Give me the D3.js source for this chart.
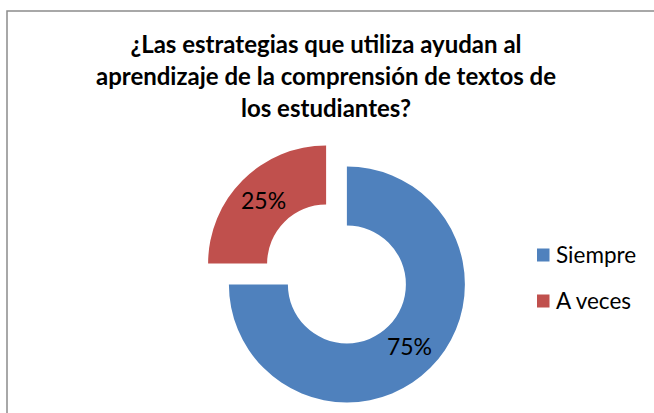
<!DOCTYPE html>
<html>
<head>
<meta charset="utf-8">
<script src="https://cdn.jsdelivr.net/npm/d3@7"></script>
<style>
  body { margin: 0; background: #fff; }
  svg { display: block; }
</style>
</head>
<body>
<svg id="chart" width="654" height="413"></svg>
<script>
// data
var categories = ["Siempre", "A veces"];
var values = [75, 25];
var colors = ["#4F81BD", "#C0504D"];
var titleLines = ["¿Las estrategias que utiliza ayudan al",
                  "aprendizaje de la comprensión de textos de",
                  "los estudiantes?"];

var svg = d3.select("#chart");
var width = 654, height = 413;

// chart area frame (left and top edges visible)
svg.append("rect")
    .attr("x", 7).attr("y", 11)
    .attr("width", 700).attr("height", 500)
    .attr("fill", "none")
    .attr("stroke", "#8c8c8c")
    .attr("stroke-width", 1.5);

// title
svg.append("g").selectAll("text")
    .data(titleLines)
    .enter().append("text")
    .attr("x", 326)
    .attr("y", function(d, i) { return 53 + i * 32; })
    .attr("text-anchor", "middle")
    .style("font-family", "Lato, 'Open Sans', sans-serif")
    .style("font-weight", "bold")
    .style("font-size", "24px")
    .style("fill", "#000")
    .text(function(d) { return d; });

// donut
var cx = 336.5, cy = 274, outerR = 118, innerR = 59, explode = 14.7;

var pie = d3.pie().sort(null).value(function(d) { return d; });
var arc = d3.arc().innerRadius(innerR).outerRadius(outerR);
var arcs = pie(values);

var g = svg.append("g").attr("transform", "translate(" + cx + "," + cy + ")");

var slice = g.selectAll("g.slice")
    .data(arcs)
    .enter().append("g")
    .attr("class", "slice")
    .attr("transform", function(d)
    {
        var a = (d.startAngle + d.endAngle) / 2;
        return "translate(" + (Math.sin(a) * explode) + "," + (-Math.cos(a) * explode) + ")";
    });

slice.append("path")
    .attr("d", arc)
    .attr("fill", function(d, i) { return colors[i]; });

slice.append("text")
    .attr("transform", function(d) { return "translate(" + arc.centroid(d) + ")"; })
    .attr("text-anchor", "middle")
    .attr("dy", "0.35em")
    .style("font-family", "Lato, 'Open Sans', sans-serif")
    .style("font-size", "23px")
    .style("fill", "#000")
    .text(function(d) { return d.value + "%"; });

// legend
var legend = svg.append("g").selectAll("g")
    .data(categories)
    .enter().append("g")
    .attr("transform", function(d, i) { return "translate(537," + (255 + i * 46) + ")"; });

legend.append("rect")
    .attr("x", 0).attr("y", -6.5)
    .attr("width", 12.5).attr("height", 13)
    .attr("fill", function(d, i) { return colors[i]; });

legend.append("text")
    .attr("x", 19)
    .attr("dy", "0.35em")
    .style("font-family", "Lato, 'Open Sans', sans-serif")
    .style("font-size", "22.5px")
    .style("fill", "#000")
    .text(function(d) { return d; });
</script>
</body>
</html>
